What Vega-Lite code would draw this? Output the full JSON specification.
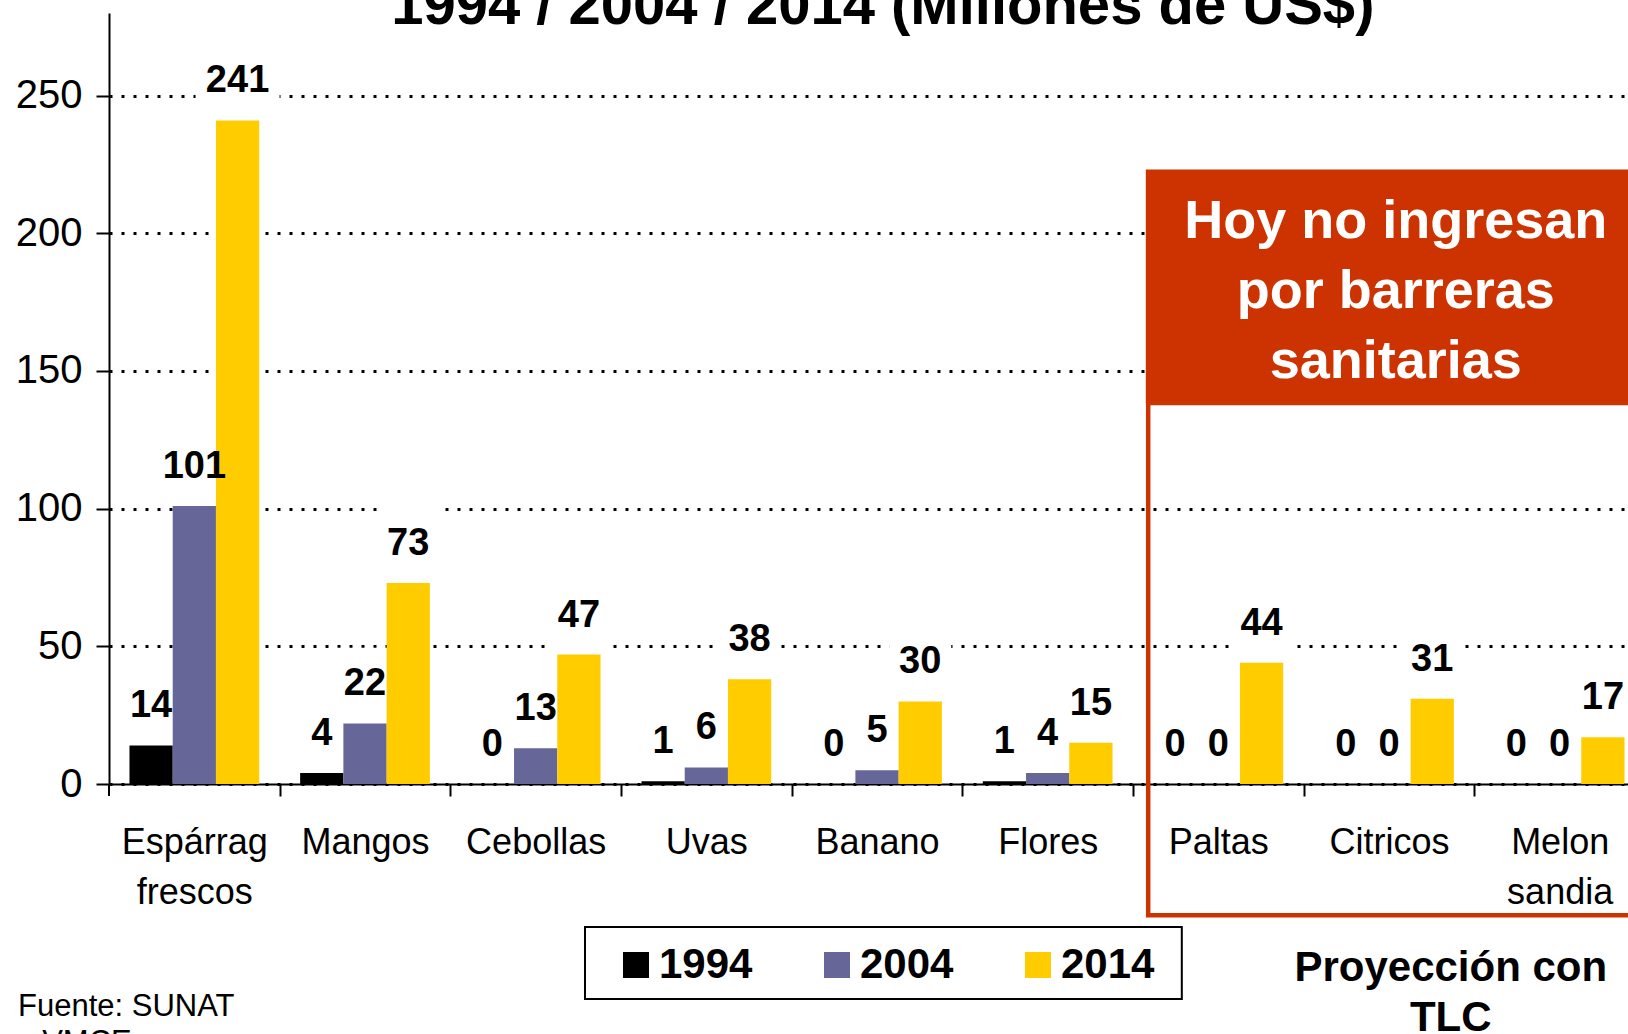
{
  "$schema": "https://vega.github.io/schema/vega-lite/v6.json",
  "width": 1519,
  "height": 771,
  "autosize": {"type": "none"},
  "padding": {"left": 109, "top": 13, "right": 0, "bottom": 250},
  "background": "white",
  "config": {"view": {"stroke": null}, "font": "Liberation Sans"},
  "datasets": {
    "exports": [
      {"producto": "Espárrag frescos", "year": "1994", "value": 14},
      {"producto": "Espárrag frescos", "year": "2004", "value": 101},
      {"producto": "Espárrag frescos", "year": "2014", "value": 241},
      {"producto": "Mangos", "year": "1994", "value": 4},
      {"producto": "Mangos", "year": "2004", "value": 22},
      {"producto": "Mangos", "year": "2014", "value": 73},
      {"producto": "Cebollas", "year": "1994", "value": 0},
      {"producto": "Cebollas", "year": "2004", "value": 13},
      {"producto": "Cebollas", "year": "2014", "value": 47},
      {"producto": "Uvas", "year": "1994", "value": 1},
      {"producto": "Uvas", "year": "2004", "value": 6},
      {"producto": "Uvas", "year": "2014", "value": 38},
      {"producto": "Banano", "year": "1994", "value": 0},
      {"producto": "Banano", "year": "2004", "value": 5},
      {"producto": "Banano", "year": "2014", "value": 30},
      {"producto": "Flores", "year": "1994", "value": 1},
      {"producto": "Flores", "year": "2004", "value": 4},
      {"producto": "Flores", "year": "2014", "value": 15},
      {"producto": "Paltas", "year": "1994", "value": 0},
      {"producto": "Paltas", "year": "2004", "value": 0},
      {"producto": "Paltas", "year": "2014", "value": 44},
      {"producto": "Citricos", "year": "1994", "value": 0},
      {"producto": "Citricos", "year": "2004", "value": 0},
      {"producto": "Citricos", "year": "2014", "value": 31},
      {"producto": "Melon sandia", "year": "1994", "value": 0},
      {"producto": "Melon sandia", "year": "2004", "value": 0},
      {"producto": "Melon sandia", "year": "2014", "value": 17}
    ]
  },
  "layer": [
    {
      "data": {"name": "exports"},
      "layer": [
        {
          "transform": [{"filter": "datum.value < 100"}],
          "mark": {
            "type": "point",
            "shape": "M-0.775,-1.89H0.775V-0.05H-0.775Z",
            "size": 6400,
            "filled": true,
            "fill": "white",
            "opacity": 1,
            "strokeWidth": 0
          },
          "encoding": {
            "x": {
              "field": "producto", "type": "nominal", "sort": null,
              "scale": {"paddingInner": 0.24, "paddingOuter": 0.12, "range": [0, 1536]},
              "axis": {
                "title": null,
                "orient": "bottom",
                "tickOffset": 85.35,
                "labelOffset": -85.35,
                "labelAngle": 0,
                "domainColor": "#000000",
                "domainWidth": 2,
                "tickColor": "#000000",
                "tickWidth": 2,
                "tickSize": 12,
                "labelFont": "Liberation Sans",
                "labelFontSize": 36,
                "labelColor": "#000000",
                "labelPadding": 29,
                "labelLineHeight": 50,
                "labelLimit": 0,
                "labelExpr": "split(datum.label, ' ')",
                "grid": false
              }
            },
            "xOffset": {"field": "year", "type": "nominal", "sort": ["1994", "2004", "2014"], "scale": {"paddingInner": 0, "paddingOuter": 0}},
            "y": {
              "field": "value", "type": "quantitative",
              "scale": {"domain": [0, 280], "nice": false, "zero": false},
              "axis": {
                "title": null,
                "values": [0, 50, 100, 150, 200, 250],
                "grid": true,
                "gridColor": "#000000",
                "gridDash": [3, 9],
                "gridWidth": 3,
                "gridOpacity": 1,
                "domainColor": "#000000",
                "domainWidth": 2,
                "tickColor": "#000000",
                "tickWidth": 2,
                "tickSize": 13,
                "labelFont": "Liberation Sans",
                "labelFontSize": 40,
                "labelColor": "#000000",
                "labelPadding": 14
              }
            }
          }
        },
        {
          "transform": [{"filter": "datum.value >= 100"}],
          "mark": {
            "type": "point",
            "shape": "M-1.05,-1.89H1.05V-0.05H-1.05Z",
            "size": 6400,
            "filled": true,
            "fill": "white",
            "opacity": 1,
            "strokeWidth": 0
          },
          "encoding": {
            "x": {"field": "producto", "type": "nominal", "sort": null, "scale": {"paddingInner": 0.24, "paddingOuter": 0.12, "range": [0, 1536]}},
            "xOffset": {"field": "year", "type": "nominal", "sort": ["1994", "2004", "2014"], "scale": {"paddingInner": 0, "paddingOuter": 0}},
            "y": {"field": "value", "type": "quantitative", "scale": {"domain": [0, 280], "nice": false, "zero": false}}
          }
        },
        {
          "mark": {"type": "bar"},
          "encoding": {
            "x": {"field": "producto", "type": "nominal", "sort": null, "scale": {"paddingInner": 0.24, "paddingOuter": 0.12, "range": [0, 1536]}},
            "xOffset": {"field": "year", "type": "nominal", "sort": ["1994", "2004", "2014"], "scale": {"paddingInner": 0, "paddingOuter": 0}},
            "y": {"field": "value", "type": "quantitative", "scale": {"domain": [0, 280], "nice": false, "zero": false}},
            "color": {
              "field": "year", "type": "nominal",
              "scale": {"domain": ["1994", "2004", "2014"], "range": ["#000000", "#666699", "#FFCC00"]},
              "legend": {
                "orient": "none",
                "legendX": 506,
                "legendY": 931,
                "direction": "horizontal",
                "title": null,
                "symbolType": "square",
                "symbolSize": 676,
                "symbolStrokeWidth": 0,
                "symbolOpacity": 1,
                "labelFont": "Liberation Sans",
                "labelFontSize": 42,
                "labelFontWeight": "bold",
                "labelColor": "#000000",
                "labelOffset": 2,
                "labelLimit": 0,
                "columnPadding": 63,
                "padding": 0
              }
            }
          }
        }
      ]
    },
    {
      "data": {"values": [{}]},
      "layer": [
        {
          "mark": {"type": "rule", "color": "#000000", "strokeWidth": 2},
          "encoding": {
            "x": {"datum": 0, "type": "quantitative", "scale": {"domain": [0, 9], "range": [0, 1536]}, "axis": null},
            "y": {"datum": 0, "type": "quantitative", "scale": {"domain": [0, 280], "nice": false, "zero": false}},
            "y2": {"datum": -4.4}
          }
        },
        {
          "mark": {"type": "rect", "filled": false, "stroke": "#CC3300", "strokeWidth": 4.5},
          "encoding": {
            "x": {"datum": 6.089, "type": "quantitative", "scale": {"domain": [0, 9], "range": [0, 1536]}, "axis": null},
            "x2": {"datum": 9.5},
            "y": {"datum": 138.4, "type": "quantitative", "scale": {"domain": [0, 280], "nice": false, "zero": false}},
            "y2": {"datum": -47.7}
          }
        },
        {
          "mark": {"type": "rect", "fill": "#CC3300", "strokeWidth": 0},
          "encoding": {
            "x": {"datum": 6.075, "type": "quantitative", "scale": {"domain": [0, 9], "range": [0, 1536]}, "axis": null},
            "x2": {"datum": 9.5},
            "y": {"datum": 223.2, "type": "quantitative", "scale": {"domain": [0, 280], "nice": false, "zero": false}},
            "y2": {"datum": 138.4}
          }
        },
        {
          "mark": {"type": "rect", "filled": false, "stroke": "#000000", "strokeWidth": 2},
          "encoding": {
            "x": {"datum": 2.789, "type": "quantitative", "scale": {"domain": [0, 9], "range": [0, 1536]}, "axis": null},
            "x2": {"datum": 6.286},
            "y": {"datum": -51.9, "type": "quantitative", "scale": {"domain": [0, 280], "nice": false, "zero": false}},
            "y2": {"datum": -78.1}
          }
        },
        {
          "mark": {"type": "text", "font": "Liberation Sans", "fontSize": 58, "fontWeight": "bold", "color": "#000000", "align": "center", "baseline": "alphabetic"},
          "encoding": {
            "x": {"datum": 4.534, "type": "quantitative", "scale": {"domain": [0, 9], "range": [0, 1536]}, "axis": null},
            "y": {"datum": 276.1, "type": "quantitative", "scale": {"domain": [0, 280], "nice": false, "zero": false}},
            "text": {"value": "1994 / 2004 / 2014 (Millones de US$)"}
          }
        },
        {
          "mark": {"type": "text", "font": "Liberation Sans", "fontSize": 54, "fontWeight": "bold", "color": "#FFFFFF", "align": "center", "baseline": "middle", "lineHeight": 70},
          "encoding": {
            "x": {"datum": 7.54, "type": "quantitative", "scale": {"domain": [0, 9], "range": [0, 1536]}, "axis": null},
            "y": {"datum": 204.1, "type": "quantitative", "scale": {"domain": [0, 280], "nice": false, "zero": false}},
            "text": {"value": ["Hoy no ingresan", "por barreras", "sanitarias"]}
          }
        },
        {
          "mark": {"type": "text", "font": "Liberation Sans", "fontSize": 42, "fontWeight": "bold", "color": "#000000", "align": "center", "baseline": "middle", "lineHeight": 50},
          "encoding": {
            "x": {"datum": 7.862, "type": "quantitative", "scale": {"domain": [0, 9], "range": [0, 1536]}, "axis": null},
            "y": {"datum": -66.8, "type": "quantitative", "scale": {"domain": [0, 280], "nice": false, "zero": false}},
            "text": {"value": ["Proyección con", "TLC"]}
          }
        },
        {
          "mark": {"type": "text", "font": "Liberation Sans", "fontSize": 31, "color": "#000000", "align": "left", "baseline": "alphabetic", "lineHeight": 36},
          "encoding": {
            "x": {"datum": -0.533, "type": "quantitative", "scale": {"domain": [0, 9], "range": [0, 1536]}, "axis": null},
            "y": {"datum": -84.4, "type": "quantitative", "scale": {"domain": [0, 280], "nice": false, "zero": false}},
            "text": {"value": ["Fuente: SUNAT", "y VMCE"]}
          }
        }
      ]
    },
    {
      "data": {"name": "exports"},
      "mark": {"type": "text", "font": "Liberation Sans", "fontSize": 38, "fontWeight": "bold", "color": "#000000", "align": "center", "baseline": "alphabetic", "dy": -28},
      "encoding": {
        "x": {"field": "producto", "type": "nominal", "sort": null, "scale": {"paddingInner": 0.24, "paddingOuter": 0.12, "range": [0, 1536]}, "axis": null},
        "xOffset": {"field": "year", "type": "nominal", "sort": ["1994", "2004", "2014"], "scale": {"paddingInner": 0, "paddingOuter": 0}},
        "y": {"field": "value", "type": "quantitative", "scale": {"domain": [0, 280], "nice": false, "zero": false}},
        "text": {"field": "value", "type": "quantitative", "format": "d"}
      }
    }
  ],
  "resolve": {"scale": {"x": "independent"}}
}
